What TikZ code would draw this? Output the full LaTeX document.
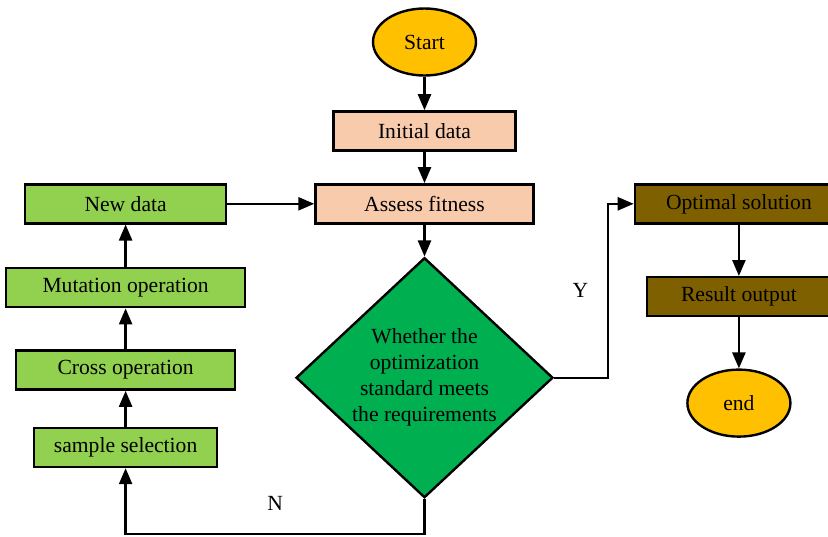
\documentclass[tikz,border=0pt]{standalone}
\usepackage{fontspec}
\setmainfont{Liberation Serif}
\usetikzlibrary{positioning,arrows.meta,shapes.geometric}
\definecolor{StartOrange}{RGB}{255,192,0}
\definecolor{PeachFill}{RGB}{248,203,173}
\definecolor{LeafGreen}{RGB}{146,208,80}
\definecolor{DecisionGreen}{RGB}{0,176,80}
\definecolor{OliveBrown}{RGB}{127,96,0}
\tikzset{
  flow/.style={-{Triangle[length=8pt,width=6.5pt]},line width=1.2pt,draw=black},
  basebox/.style={draw=black,line width=1.2pt,minimum height=19.5pt,
    inner sep=2pt,align=center},
  peachbox/.style={basebox,fill=PeachFill},
  greenbox/.style={basebox,fill=LeafGreen},
  brownbox/.style={basebox,fill=OliveBrown},
  termbox/.style={basebox,ellipse,fill=StartOrange,
    minimum width=51.5pt,minimum height=33.5pt},
  decision/.style={basebox,diamond,fill=DecisionGreen,aspect=1.07,
    minimum width=128.5pt,minimum height=120pt,inner sep=0pt}
}

\begin{document}
\begin{tikzpicture}[x=0.5pt,y=-0.5pt,font=\fontsize{10.8}{13}\selectfont]
  \useasboundingbox (0,0) rectangle (828,536);
  % main column
  \node[termbox] (start) at (424.5,42) {Start};
  \node[peachbox,below=16.75pt of start,minimum width=91pt] (init) {Initial data};
  \node[peachbox,below=15.75pt of init,minimum width=109pt] (assess) {Assess fitness};
  \node[decision,below=16pt of assess] (check) {Whether the\\optimization\\standard meets\\the requirements};
  % left column
  \node[greenbox,left=43.5pt of assess,minimum width=100.5pt] (newdata) {New data};
  \node[greenbox,below=21.25pt of newdata,minimum width=119.5pt] (mutation) {Mutation operation};
  \node[greenbox,below=20.5pt of mutation,minimum width=109.5pt] (cross) {Cross operation};
  \node[greenbox,below=18pt of cross,minimum width=91.5pt] (sample) {sample selection};
  % right column
  \node[brownbox,right=49.5pt of assess,minimum width=104pt] (optimal) {Optimal solution};
  \node[brownbox,below=25.75pt of optimal,minimum width=92pt] (result) {Result output};
  \node[termbox,below=25.5pt of result] (finish) {end};
  \draw[flow] (start) -- (init);
  \draw[flow] (init) -- (assess);
  \draw[flow] (assess) -- (check);
  \draw[flow] (newdata) -- (assess);
  \draw[flow] (sample) -- (cross);
  \draw[flow] (cross) -- (mutation);
  \draw[flow] (mutation) -- (newdata);
  \draw[flow] (optimal) -- (result);
  \draw[flow] (result) -- (finish);
  \draw[flow] (check.east) -- ++(54,0) |- node[pos=0.25,left=6pt] {Y} (optimal.west);
  \draw[flow] (check.south) -- ++(0,35) -| node[pos=0.25,above=8pt] {N} (sample.south);
\end{tikzpicture}
\end{document}
